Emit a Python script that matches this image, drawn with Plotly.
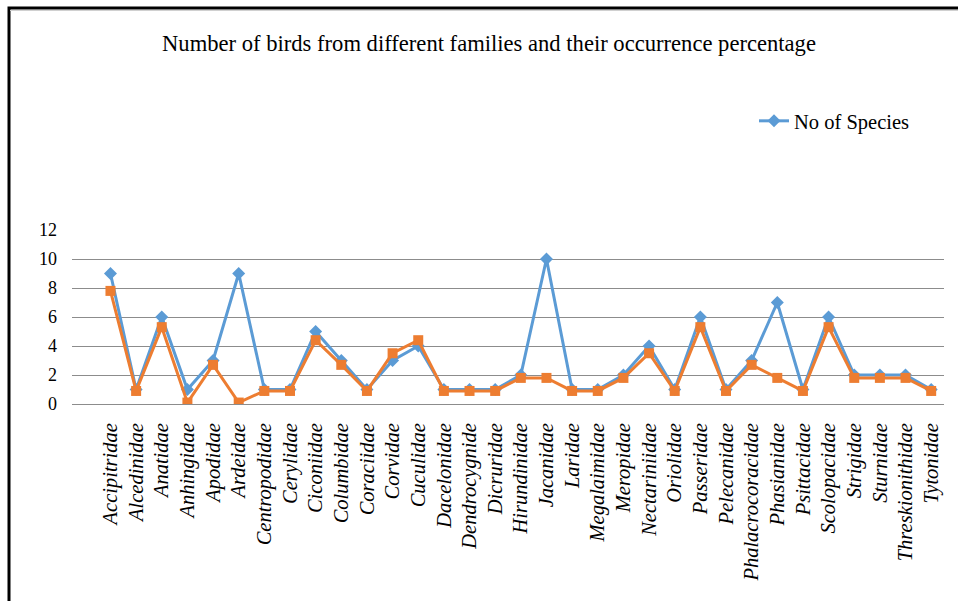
import plotly.graph_objects as go

families = ["Accipitridae", "Alcedinidae", "Anatidae", "Anhingidae", "Apodidae", "Ardeidae",
            "Centropodidae", "Cerylidae", "Ciconiidae", "Columbidae", "Coraciidae", "Corvidae",
            "Cuculidae", "Dacelonidae", "Dendrocygnide", "Dicruridae", "Hirundinidae", "Jacanidae",
            "Laridae", "Megalaimidae", "Meropidae", "Nectariniidae", "Oriolidae", "Passeridae",
            "Pelecanidae", "Phalacrocoracidae", "Phasianidae", "Psittacidae", "Scolopacidae",
            "Strigidae", "Sturnidae", "Threskionithidae", "Tytonidae"]

no_of_species = [9, 1, 6, 1, 3, 9, 1, 1, 5, 3, 1, 3, 4, 1, 1, 1, 2, 10, 1, 1, 2, 4, 1, 6, 1, 3,
                 7, 1, 6, 2, 2, 2, 1]

occurrence_pct = [7.8, 0.9, 5.3, 0.1, 2.7, 0.1, 0.9, 0.9, 4.4, 2.7, 0.9, 3.5, 4.4, 0.9, 0.9, 0.9,
                  1.8, 1.8, 0.9, 0.9, 1.8, 3.5, 0.9, 5.3, 0.9, 2.7, 1.8, 0.9, 5.3, 1.8, 1.8, 1.8, 0.9]

y_ticks = [0, 2, 4, 6, 8, 10, 12]

SERIF = "Liberation Serif"

W, H = 958, 601
L, R, T, B = 72, 944, 230, 404

fig = go.Figure()
fig.add_trace(go.Scatter(
    x=families, y=no_of_species, name="No of Species", mode="lines+markers",
    line=dict(color="#5B9BD5", width=3),
    marker=dict(symbol="diamond", size=10, color="#5B9BD5"),
))
fig.add_trace(go.Scatter(
    x=families, y=occurrence_pct, name="Occurrence percentage", mode="lines+markers",
    line=dict(color="#ED7D31", width=3),
    marker=dict(symbol="square", size=10, color="#ED7D31"),
    showlegend=False,
))

pw = R - L
ph = B - T

def px_x(x):
    return (x - L) / pw

def px_y(y):
    return (B - y) / ph

fig.update_layout(
    width=W, height=H,
    margin=dict(l=L, r=W - R, t=T, b=H - B, autoexpand=False),
    paper_bgcolor="white", plot_bgcolor="white",
    font=dict(family=SERIF, color="#000000"),
    title=dict(text="Number of birds from different families and their occurrence percentage",
               x=489 / W, xanchor="center", y=1 - 43 / H, yanchor="middle",
               font=dict(family=SERIF, size=22.6, color="#000000")),
    showlegend=True,
    legend=dict(x=px_x(754), y=px_y(121), xanchor="left", yanchor="middle",
                font=dict(family=SERIF, size=20.5, color="#000000"),
                bgcolor="rgba(0,0,0,0)"),
    xaxis=dict(type="category", range=[-1.5, 32.5], showgrid=False, showline=False,
               tickangle=-90, ticks="",
               tickfont=dict(family=SERIF, size=20.5, style="italic", color="#000000"),
               ticklabelstandoff=14),
    yaxis=dict(range=[0, 12], tickvals=y_ticks, showgrid=True, gridcolor="#8C8C8C", gridwidth=1,
               zeroline=True, zerolinecolor="#8C8C8C", zerolinewidth=1, showline=False, ticks="",
               tickfont=dict(family=SERIF, size=18, color="#000000"),
               ticklabelstandoff=14),
    shapes=[
        dict(type="rect", xref="paper", yref="paper",
             x0=px_x(9), x1=px_x(990), y0=px_y(640), y1=px_y(8),
             line=dict(color="#000000", width=3), fillcolor="rgba(0,0,0,0)", layer="above"),
        dict(type="line", xref="paper", yref="paper",
             x0=px_x(10), x1=px_x(958), y0=px_y(10.5), y1=px_y(10.5),
             line=dict(color="#D0D0D0", width=1)),
    ],
)

fig.write_html("out.html")
